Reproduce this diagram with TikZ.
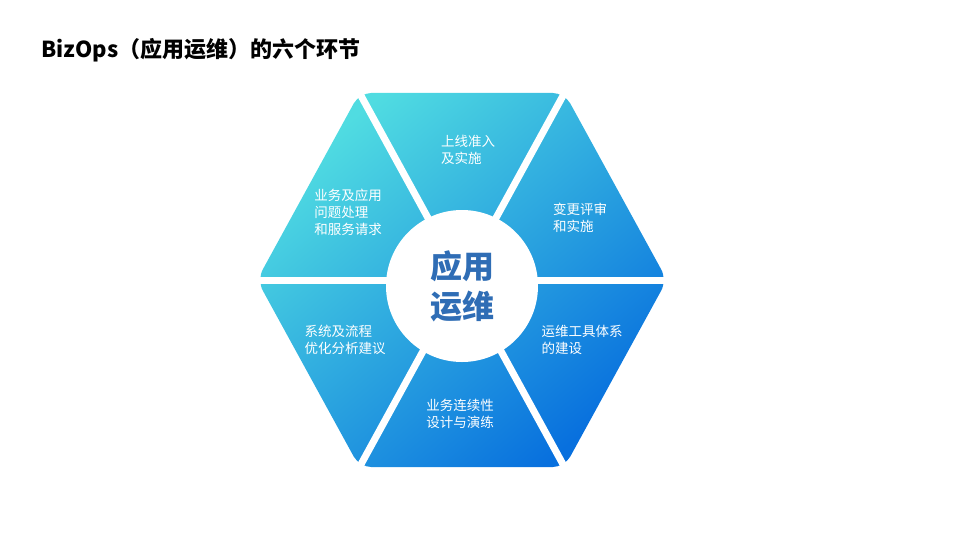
\documentclass[tikz,border=0pt]{standalone}
\usetikzlibrary{calc}
\usepackage{fontspec}
\setmainfont{Noto Sans CJK SC}
\definecolor{cA}{RGB}{80,220,225}
\definecolor{cB}{RGB}{8,112,222}
\begin{document}
\begin{tikzpicture}[x=1pt,y=-1pt,
  lbl/.style={text=white,font=\fontsize{13.5}{17}\selectfont,align=left}]
\useasboundingbox (0,0) rectangle (959,539);
\node[anchor=west,font=\fontsize{22}{26}\selectfont\bfseries] (title) at (38,50) {BizOps（应用运维）的六个环节};
\coordinate (c) at (462,280);
\foreach \i/\a in {0/0,1/60,2/120,3/180,4/240,5/300}{
  \coordinate (v\i) at ($(c)+(\a:205 and 216)$);
}
\shade[top color=cA, bottom color=cB, shading angle=40, rounded corners=12pt]
  (v0) -- (v1) -- (v2) -- (v3) -- (v4) -- (v5) -- cycle;
\foreach \i in {0,...,5}{\draw[white,line width=7pt] (c) -- (v\i);}
\fill[white] (c) ++(0,6) circle (76);
\node[font=\fontsize{32}{40}\selectfont\bfseries,text={rgb,255:red,47;green,109;blue,181},align=center] (ctr) at (462,286) {应用\\运维};
\node[lbl] (t1) at (468,150) {上线准入\\及实施};
\node[lbl] (t2) at (580,218) {变更评审\\和实施};
\node[lbl] (t3) at (582,340) {运维工具体系\\的建设};
\node[lbl] (t4) at (460,414) {业务连续性\\设计与演练};
\node[lbl] (t5) at (345,340) {系统及流程\\优化分析建议};
\node[lbl] (t6) at (348,212) {业务及应用\\问题处理\\和服务请求};
\end{tikzpicture}
\end{document}
